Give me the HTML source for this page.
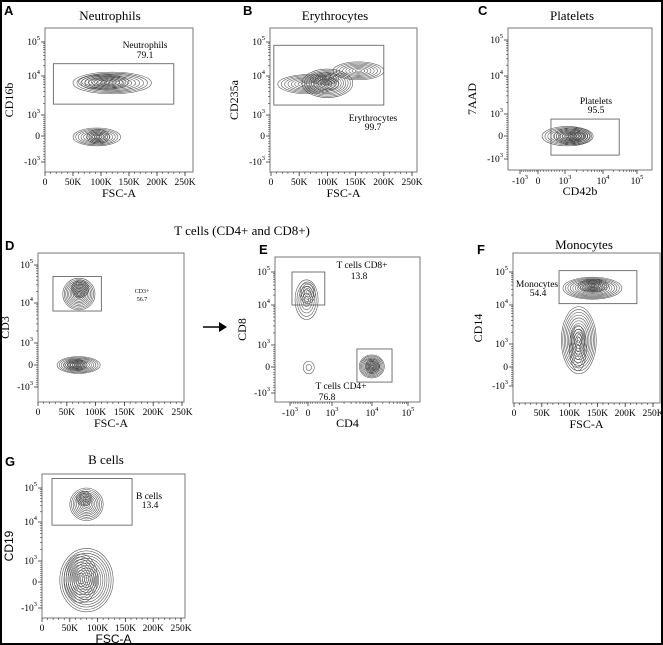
<!DOCTYPE html>
<html><head><meta charset="utf-8"><style>
html,body{margin:0;padding:0;background:#fff;}
svg{display:block;font-family:"Liberation Serif",serif;}
</style></head><body>
<svg id="fig" width="663" height="645" viewBox="0 0 663 645" xmlns="http://www.w3.org/2000/svg">
<rect x="1" y="1" width="661" height="643" fill="#fff" stroke="#000" stroke-width="2"/>
<g font-family="Liberation Sans,sans-serif" font-weight="bold" font-size="13">
<text x="4" y="15">A</text>
<text x="243" y="15">B</text>
<text x="478" y="15">C</text>
<text x="5" y="250">D</text>
<text x="259" y="254">E</text>
<text x="477" y="254">F</text>
<text x="5" y="466">G</text>
</g>
<g font-size="13" text-anchor="middle">
<text x="110" y="20">Neutrophils</text>
<text x="335" y="20">Erythrocytes</text>
<text x="572" y="20">Platelets</text>
<text x="242" y="235">T cells (CD4+ and CD8+)</text>
<text x="584" y="249">Monocytes</text>
<text x="106" y="464">B cells</text>
</g>
<g>
<line x1="203" y1="327" x2="220" y2="327" stroke="#000" stroke-width="1.5"/>
<polygon points="219,322 227,327 219,332" fill="#000"/>
</g>
</svg>
<script>
// ---- data arrays: populations [x0,x1,y0,y1,rings], gates [x0,x1,y0,y1] ----
const neutPops = [[50000,190000,3500,13000,10],[60000,150000,4500,11000,8],[50000,135000,-380,380,9],[75000,115000,-300,300,6]];
const neutGate = [15000,230000,1900,23000];
const eryPops = [[12000,120000,3500,11000,9],[55000,145000,2800,16000,11],[110000,200000,8000,26000,8],[70000,120000,6000,13000,6]];
const eryGate = [5000,200000,1800,80000];
const pltPops = [[150,5500,-430,430,9],[600,5000,-380,380,9],[1200,4000,-250,250,5]];
const pltGate = [480,30000,-830,770];
const d3Pops = [[43000,99000,6700,45000,11],[58000,88000,14000,40000,8],[33000,108000,-380,380,10],[45000,85000,-250,250,7]];
const d3Gate = [26000,110000,6300,50000];
const ePops = [[-720,420,4300,58000,6],[-450,300,11000,50000,5],[4800,22000,-420,550,11],[7000,16000,-250,350,6],[-260,260,-260,260,2]];
const eGate = [-890,700,10000,100000];
const eGate2 = [4200,36000,-580,820];
const monoPops = [[88000,194000,15000,70000,12],[115000,170000,25000,60000,8],[85000,148000,-350,9000,12],[100000,130000,-200,3000,6]];
const monoGate = [81000,221000,11000,110000];
const bPops = [[50000,110000,11000,100000,10],[62000,90000,30000,80000,6],[32000,128000,-1150,2100,13],[40000,100000,-800,1500,9]];
const bGate = [18000,162000,8300,190000];
const linTickLabels = ["0","50K","100K","150K","200K","250K"];
const linTickValues = [0,50000,100000,150000,200000,250000];
const logTickValues = [-1000,0,1000,10000,100000];

const NS = "http://www.w3.org/2000/svg";
const svg = document.getElementById("fig");
function mk(tag, attrs, parent){const e=document.createElementNS(NS,tag);for(const k in attrs)e.setAttribute(k,attrs[k]);(parent||svg).appendChild(e);return e;}

function logMap(v,t){
  if(v<0) return t[1]+(t[0]-t[1])*(-v/1000);
  if(v<1000) return t[1]+(t[2]-t[1])*(v/1000);
  const L=Math.log10(v);
  if(L<4) return t[2]+(t[3]-t[2])*(L-3);
  return t[3]+(t[4]-t[3])*(L-4);
}
function makePanel(cfg){
  const g = mk("g",{});
  
  
  const [bx,by,bw,bh]=cfg.box;
  const xs = cfg.xLog ? (v=>logMap(v,cfg.xt)) : (v=>cfg.xt[0]+(cfg.xt[1]-cfg.xt[0])*v/250000);
  const ys = v=>logMap(v,cfg.yt);
  const box = mk("rect",{x:bx,y:by,width:bw,height:bh,fill:"none",stroke:"#777","stroke-width":1},g);
  
  
  cfg.pops.forEach(p=>{
    const [x0,x1,y0,y1,n]=p;
    const cx=(xs(x0)+xs(x1))/2, cy=(ys(y0)+ys(y1))/2;
    const rx=Math.abs(xs(x1)-xs(x0))/2, ry=Math.abs(ys(y1)-ys(y0))/2;
    const pg=mk("g",{},g);
    
    
    for(let i=1;i<=n;i++){
      const k=i/n;
      mk("ellipse",{cx:cx,cy:cy,rx:rx*k,ry:ry*k,fill:"none",stroke:"#4a4a4a","stroke-width":0.55},pg);
    }
  });
  cfg.gates.forEach(gt=>{
    const [x0,x1,y0,y1]=gt;
    const r=mk("rect",{x:Math.min(xs(x0),xs(x1)),y:Math.min(ys(y0),ys(y1)),width:Math.abs(xs(x1)-xs(x0)),height:Math.abs(ys(y1)-ys(y0)),fill:"none",stroke:"#666","stroke-width":0.9},g);
    
    
  });
  const ya=mk("g",{"font-size":"9.5"},g);
  
  
  const ylabs=[["-10","3"],["0",""],["10","3"],["10","4"],["10","5"]];
  logTickValues.forEach((v,i)=>{
    const y=ys(v);
    mk("line",{x1:bx-4,x2:bx,y1:y,y2:y,stroke:"#333","stroke-width":0.8},ya);
    const t=mk("text",{x:bx-5,y:y+3,"text-anchor":"end"},ya);
    t.textContent=ylabs[i][0];
    if(ylabs[i][1]){const s=mk("tspan",{dy:-5,"font-size":"6.5"},t);s.textContent=ylabs[i][1];}
  });
  for(let d=3;d<5;d++)for(let m=2;m<10;m++){const y=ys(m*Math.pow(10,d));mk("line",{x1:bx-2,x2:bx,y1:y,y2:y,stroke:"#333","stroke-width":0.6},ya);}
  for(let v=-900;v<1000;v+=100){const y=ys(v);mk("line",{x1:bx-2,x2:bx,y1:y,y2:y,stroke:"#333","stroke-width":0.5},ya);}
  const xa=mk("g",{"font-size":"9.5","text-anchor":"middle"},g);
  
  
  const base=by+bh;
  if(cfg.xLog){
    logTickValues.forEach((v,i)=>{
      const x=xs(v);
      mk("line",{x1:x,x2:x,y1:base,y2:base+4,stroke:"#333","stroke-width":0.8},xa);
      const t=mk("text",{x:x,y:base+14},xa);t.textContent=ylabs[i][0];
      if(ylabs[i][1]){const s=mk("tspan",{dy:-5,"font-size":"6.5"},t);s.textContent=ylabs[i][1];}
    });
    for(let d=3;d<5;d++)for(let m=2;m<10;m++){const x=xs(m*Math.pow(10,d));mk("line",{x1:x,x2:x,y1:base,y2:base+2,stroke:"#333","stroke-width":0.6},xa);}
    for(let v=-900;v<1000;v+=100){const x=xs(v);mk("line",{x1:x,x2:x,y1:base,y2:base+2,stroke:"#333","stroke-width":0.5},xa);}
  } else {
    linTickValues.forEach((v,i)=>{
      const x=xs(v);
      mk("line",{x1:x,x2:x,y1:base,y2:base+4,stroke:"#333","stroke-width":0.8},xa);
      const t=mk("text",{x:x,y:base+13},xa);t.textContent=linTickLabels[i];
    });
    for(let v=10000;v<260000;v+=10000){const x=xs(v);mk("line",{x1:x,x2:x,y1:base,y2:base+2,stroke:"#333","stroke-width":0.6},xa);}
  }
  const xt=mk("text",{x:bx+bw/2-(cfg.xTitleShift||0),y:base+cfg.xTitleDy,"text-anchor":"middle","font-size":"12","font-family":cfg.sans?"Liberation Sans,sans-serif":"Liberation Serif,serif"},g);
  xt.textContent=cfg.xTitle;
  
  
  const yx=bx-cfg.yTitleDx, yy=by+bh/2;
  const yt=mk("text",{x:yx,y:yy,"text-anchor":"middle","font-size":"12",transform:`rotate(-90 ${yx} ${yy})`,"font-family":cfg.sans?"Liberation Sans,sans-serif":"Liberation Serif,serif"},g);
  yt.textContent=cfg.yTitle;
  
  
  cfg.labels.forEach(l=>{
    const t=mk("text",{x:l[0],y:l[1],"text-anchor":"middle","font-size":l[3]||"9.5"},g);
    t.textContent=l[2];
    
    
  });
}
makePanel({name:"panel-a-neutrophils",box:[45,28,148,144],xt:[45,185],yt:[162,136,115,76,42],pops:neutPops,gates:[neutGate],xTitle:"FSC-A",xTitleDy:25,yTitle:"CD16b",yTitleDx:32,
  labels:[[145,48,"Neutrophils"],[145,58,"79.1"]]});
makePanel({name:"panel-b-erythrocytes",box:[270,28,147,144],xt:[271,412],yt:[162,136,115,76,42],pops:eryPops,gates:[eryGate],xTitle:"FSC-A",xTitleDy:25,yTitle:"CD235a",yTitleDx:32,
  labels:[[373,121,"Erythrocytes"],[373,130,"99.7"]]});
makePanel({name:"panel-c-platelets",box:[508,28,144,142],xLog:true,xt:[520,538,565,603,637],yt:[159,136,114,76,40],pops:pltPops,gates:[pltGate],xTitle:"CD42b",xTitleDy:25,yTitle:"7AAD",yTitleDx:32,
  labels:[[596,104,"Platelets"],[596,113,"95.5"]]});
makePanel({name:"panel-d-cd3",box:[38,253,146,149],xt:[38,182],yt:[387,365,343,303,265],pops:d3Pops,gates:[d3Gate],xTitle:"FSC-A",xTitleDy:25,yTitle:"CD3",yTitleDx:29,
  labels:[[142,293,"CD3+","6"],[142,301,"56.7","6"]]});
makePanel({name:"panel-e-cd4-cd8",box:[275,257,145,145],xLog:true,xt:[290,308,332,372,408],yt:[393,367,345,305,272],pops:ePops,gates:[eGate,eGate2],xTitle:"CD4",xTitleDy:25,yTitle:"CD8",yTitleDx:29,
  labels:[[362,268,"T cells CD8+"],[359,279,"13.8"],[341,389,"T cells CD4+"],[327,400,"76.8"]]});
makePanel({name:"panel-f-monocytes",box:[513,253,147,150],xt:[514,653],yt:[386,367,344,305,272],pops:monoPops,gates:[monoGate],xTitle:"FSC-A",xTitleDy:25,yTitle:"CD14",yTitleDx:31,
  labels:[[537,287,"Monocytes"],[538,296,"54.4"]]});
makePanel({name:"panel-g-b-cells",box:[42,474,143,144],xt:[42,181],yt:[608,582,561,522,488],pops:bPops,gates:[bGate],xTitle:"FSC-A",xTitleDy:25,yTitle:"CD19",yTitleDx:29,sans:true,
  labels:[[149,499,"B cells"],[150,508,"13.4"]]});
</script>
</body></html>
